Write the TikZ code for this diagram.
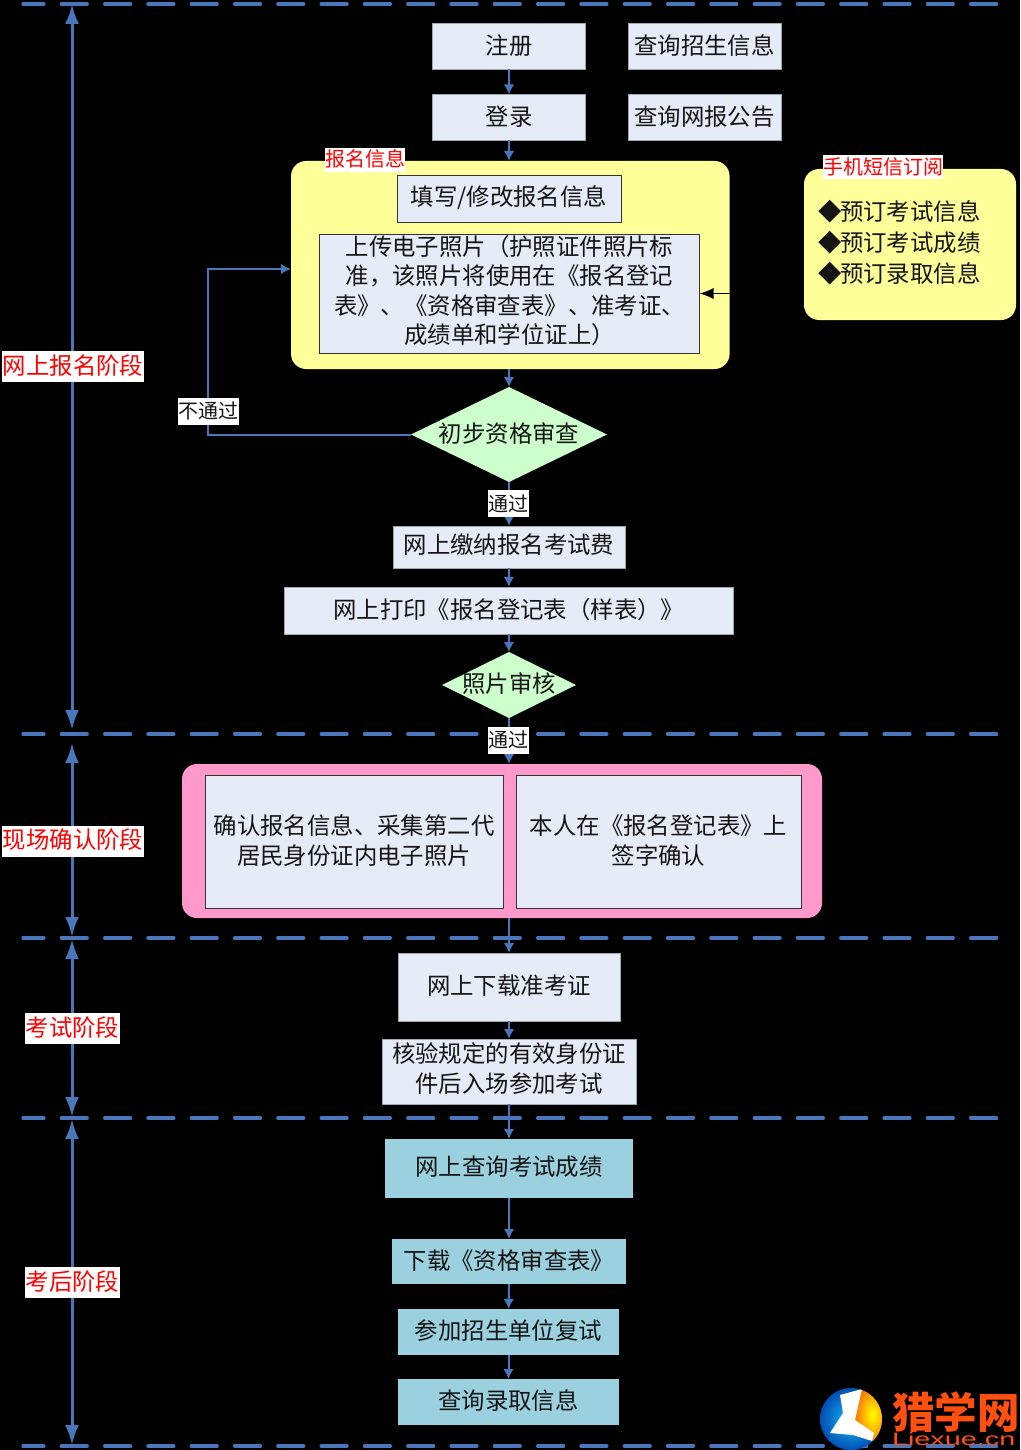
\documentclass[tikz,border=0pt]{standalone}
\usepackage{fontspec}
\usetikzlibrary{shapes.geometric,arrows.meta}
\setmainfont{Noto Sans CJK SC}
\definecolor{lineblue}{HTML}{4A76BC}
\definecolor{boxfill}{HTML}{E6ECF7}
\definecolor{boxline}{HTML}{A0A6B0}
\definecolor{teal1}{HTML}{9BD0DE}
\definecolor{yel}{HTML}{FFFF99}
\definecolor{pinkb}{HTML}{FF99CC}
\definecolor{grn}{HTML}{CCFFCC}
\definecolor{logoor}{HTML}{FF5010}
% extra depth lifts centred text, extra height lowers it
\newcommand{\upa}[1]{\raisebox{0pt}[\height][\dimexpr\depth+2pt\relax]{#1}}
\newcommand{\upb}[1]{\raisebox{0pt}[\height][\dimexpr\depth+4pt\relax]{#1}}
\newcommand{\lines}[1]{\begin{tabular}{@{}c@{}}#1\end{tabular}}
\newcommand{\lowered}[1]{\raisebox{0pt}[\dimexpr\height+4pt\relax][\depth]{#1}}
\tikzset{
  every node/.style={inner sep=0pt,outer sep=0pt,align=center,text=black!92},
  main/.style={font=\fontsize{23.4}{29.3}\selectfont},
  small/.style={font=\fontsize{20}{24}\selectfont},
  box/.style={main,rectangle,fill=boxfill,draw=boxline,line width=1pt},
  darkbox/.style={main,rectangle,fill=boxfill,draw=black!80,line width=.8pt},
  tealbox/.style={main,rectangle,fill=teal1,draw=none},
  panel/.style={rectangle,rounded corners=15pt,draw=none},
  choice/.style={diamond,fill=grn,draw=none,aspect=2},
  flow/.style={draw=lineblue,line width=2pt,-{Latex[length=10pt,width=10.5pt]}},
  dashline/.style={draw=lineblue,line width=3.2pt,line cap=round,dash pattern=on 26pt off 17.3pt,dash phase=5pt},
  span/.style={draw=lineblue,line width=3pt,{Latex[length=20pt,width=14pt]}-{Latex[length=20pt,width=14pt]}},
  phase/.style={main,fill=white,text=red,minimum height=31pt},
  tag/.style={small,fill=white,text=red,minimum height=24pt},
  verdict/.style={small,fill=white,minimum height=27pt},
}
\begin{document}
\begin{tikzpicture}[x=1pt,y=-1pt]
\path[use as bounding box,fill=black] (0,0) rectangle (1020,1450);
% horizontal dashed phase lines
\coordinate (d1l) at (23,4);    \coordinate (d1r) at (1000,4);
\coordinate (d2l) at (23,734);  \coordinate (d2r) at (1000,734);
\coordinate (d3l) at (23,938);  \coordinate (d3r) at (1000,938);
\coordinate (d4l) at (23,1118); \coordinate (d4r) at (1000,1118);
\coordinate (d5l) at (23,1446); \coordinate (d5r) at (1000,1446);
\foreach \n in {1,...,5} \draw[dashline] (d\n l) -- (d\n r);
% vertical span arrows
\coordinate (s1a) at (72,4);    \coordinate (s1b) at (72,730);
\coordinate (s2a) at (72,743);  \coordinate (s2b) at (72,937);
\coordinate (s3a) at (72,939);  \coordinate (s3b) at (72,1117);
\coordinate (s4a) at (72,1119); \coordinate (s4b) at (72,1445);
\foreach \n in {1,...,4} \draw[span] (s\n a) -- (s\n b);
\node[phase,minimum width=142pt] (p1) at (73,366.5) {\upa{网上报名阶段}};
\node[phase,minimum width=142pt] (p2) at (73,841) {\upa{现场确认阶段}};
\node[phase,minimum width=95pt] (p3) at (72.5,1028) {考试阶段};
\node[phase,minimum width=95pt] (p4) at (72.5,1282) {考后阶段};
% top boxes
\node[box,minimum width=153pt,minimum height=46pt] (reg) at (509,46.5) {\upa{注册}};
\node[box,minimum width=153pt,minimum height=46pt] (info) at (704.5,46.5) {\upa{查询招生信息}};
\node[box,minimum width=153pt,minimum height=46pt] (login) at (509,117.5) {\upa{登录}};
\node[box,minimum width=153pt,minimum height=46pt] (notice) at (704.5,117.5) {\upa{查询网报公告}};
% yellow panel
\node[panel,fill=yel,minimum width=438.5pt,minimum height=208pt] (ypanel) at (510.3,265) {};
\node[darkbox,minimum width=224pt,minimum height=47pt] (fill) at (509,198.5) {\upa{填写/修改报名信息}};
\node[darkbox,minimum width=380pt,minimum height=119pt] (upload) at (509.5,293.5) {\lines{上传电子照片（护照证件照片标\\准，该照片将使用在《报名登记\\表》、《资格审查表》、准考证、\\成绩单和学位证上）}};
\node[tag,minimum width=80pt] (ytag) at (365,160) {\upa{报名信息}};
% SMS panel
\node[panel,fill=yel,minimum width=212pt,minimum height=151pt] (sms) at (910,244.5) {};
\node[tag,minimum width=120pt] (stag) at (883,167) {手机短信订阅};
\node[main,anchor=west] (s1) at (818,212) {\makebox[22pt][l]{◆}预订考试信息};
\node[main,anchor=west] (s2) at (818,243) {\makebox[22pt][l]{◆}预订考试成绩};
\node[main,anchor=west] (s3) at (818,274) {\makebox[22pt][l]{◆}预订录取信息};
% diamonds and steps
\node[choice,minimum width=196pt,minimum height=95pt,label={[main]center:\upa{初步资格审查}}] (check) at (509,434.5) {};
\node[box,minimum width=232pt,minimum height=42pt] (pay) at (509,547) {\upb{网上缴纳报名考试费}};
\node[box,minimum width=449.5pt,minimum height=47pt] (print) at (508.8,610.5) {\upa{网上打印《报名登记表（样表）》}};
\node[choice,minimum width=134pt,minimum height=66pt,label={[main]center:\upa{照片审核}}] (photo) at (509,685) {};
% pink panel
\node[panel,fill=pinkb,minimum width=640pt,minimum height=154pt] (ppanel) at (502,841) {};
\node[darkbox,minimum width=298pt,minimum height=133pt] (c1) at (354,841.5) {\lowered{\lines{确认报名信息、采集第二代\\居民身份证内电子照片}}};
\node[darkbox,minimum width=285pt,minimum height=133pt] (c2) at (658.5,841.5) {\lowered{\lines{本人在《报名登记表》上\\签字确认}}};
% lower steps
\node[box,minimum width=222pt,minimum height=68pt] (admit) at (509,987) {\upa{网上下载准考证}};
\node[box,minimum width=254pt,minimum height=65pt] (exam) at (509,1071.5) {\lines{核验规定的有效身份证\\件后入场参加考试}};
\node[tealbox,minimum width=248pt,minimum height=59pt] (score) at (509,1168.5) {\upb{网上查询考试成绩}};
\node[tealbox,minimum width=234pt,minimum height=45pt] (review) at (509,1261.5) {\upa{下载《资格审查表》}};
\node[tealbox,minimum width=221pt,minimum height=46pt] (retest) at (508.5,1332) {\upa{参加招生单位复试}};
\node[tealbox,minimum width=221pt,minimum height=46pt] (result) at (508.5,1402) {\upa{查询录取信息}};
% connectors
\draw[flow] (reg) -- (login);
\draw[flow] (login) -- (login.south |- ypanel.north);
\draw[flow] (login.south |- ypanel.south) -- (check);
\draw[flow] (check) -- (pay);
\draw[flow] (pay) -- (print);
\draw[flow] (print) -- (photo);
\draw[flow] (photo) -- (photo.south |- ppanel.north);
\draw[flow] (photo.south |- ppanel.south) -- (admit);
\draw[flow] (admit) -- (exam);
\draw[flow] (exam) -- (score);
\draw[flow] (score) -- (review);
\draw[flow] (review) -- (retest);
\draw[flow] (retest) -- (result);
\coordinate (backknee) at (208,434.5);
\coordinate (backin) at (291,269);
\draw[flow] (check.west) -- (backknee) -- (backknee |- backin) -- (backin);
\draw[black,line width=1.2pt,-{Latex[length=14pt,width=11pt]}] (ypanel.east |- upload.east) -- (upload.east);
% verdict labels
\node[verdict,minimum width=61pt] (no) at (208.5,411.5) {\upa{不通过}};
\node[verdict,minimum width=41pt] (ok1) at (508.5,503.5) {通过};
\node[verdict,minimum width=41pt] (ok2) at (508.5,740) {通过};
% logo
\begin{scope}
\clip (851,1419) circle (31);
\shade[inner color=cyan!70!blue!90,outer color=blue!55!cyan!70!black] (820,1388) rectangle (882,1450);
\shade[inner color=yellow,outer color=orange!90!red] (862,1385) -- (890,1385) -- (890,1445) -- (873,1441) -- (855,1420) -- cycle;
\fill[white] (840,1395) -- (862,1389) -- (855,1420) -- (874,1433) -- (872,1441) -- (853,1435) -- (830,1433) -- (843,1413) -- cycle;
\end{scope}
\node[anchor=west,text=logoor,font=\fontsize{42.5}{42}\selectfont\bfseries] (logo1) at (892,1412) {猎学网};
\node[anchor=west,text=logoor,font=\fontsize{18}{18}\selectfont] (logo2) at (892,1439) {\fontspec{Liberation Sans}\scalebox{1.6}[1]{Liexue.cn}};
\end{tikzpicture}
\end{document}
